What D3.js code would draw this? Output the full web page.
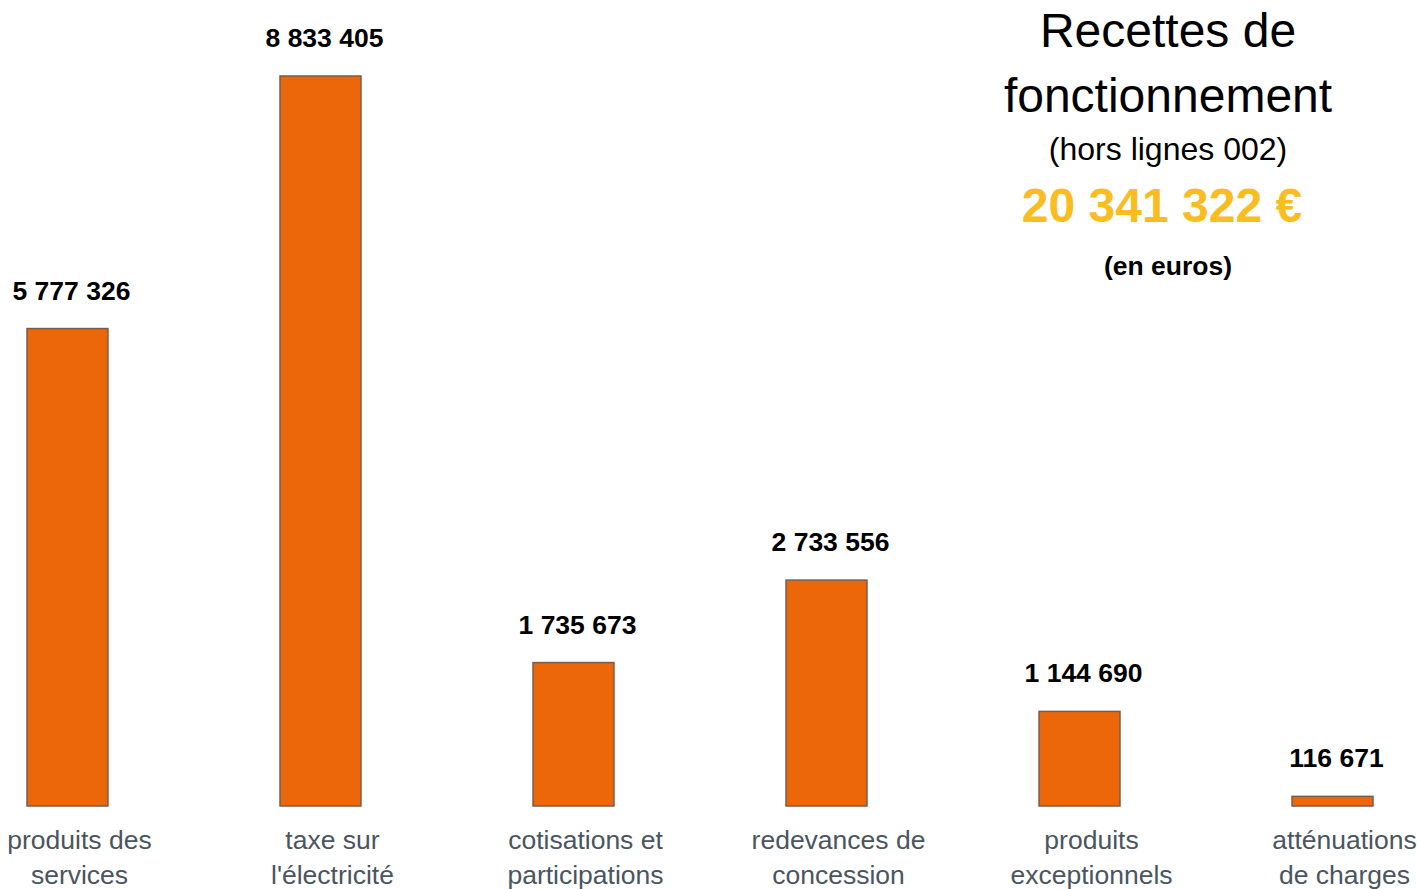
<!DOCTYPE html>
<html>
<head>
<meta charset="utf-8">
<style>
body { margin: 0; background: #fff; font-family: "Liberation Sans", Arial, sans-serif; }
.bar { fill: #eb6709; stroke: #7a5c4c; stroke-width: 1.5; }
.val { font-size: 26.5px; font-weight: bold; fill: #000; text-anchor: middle; }
.cat { font-size: 26.5px; fill: #4a5561; text-anchor: middle; }
.title { fill: #000; text-anchor: middle; }
</style>
</head>
<body>
<script src="https://cdn.jsdelivr.net/npm/d3@7"></script>
<script>

// data
var categories = [
    ["produits des", "services"],
    ["taxe sur", "l'électricité"],
    ["cotisations et", "participations"],
    ["redevances de", "concession"],
    ["produits", "exceptionnels"],
    ["atténuations", "de charges"]
];
var values = [5777326, 8833405, 1735673, 2733556, 1144690, 116671];
var total = "20 341 322 €";
var titleLines = ["Recettes de", "fonctionnement"];

var width = 1417, height = 889;
var baseline = 806;

var svg = d3.select("body").append("svg")
    .attr("width", width)
    .attr("height", height);

// scales
var x = d3.scaleBand()
    .domain(d3.range(values.length))
    .range([27, 1373])
    .paddingInner(0.68)
    .paddingOuter(0);

var y = d3.scaleLinear()
    .domain([0, 8833405])
    .range([baseline, 76]);

var fmt = function(v) { return d3.format(",")(v).replace(/,/g, " "); };

// bars
svg.selectAll("rect.bar")
    .data(values)
    .enter().append("rect")
    .attr("class", "bar")
    .attr("x", function(d, i) { return x(i); })
    .attr("y", function(d) { return y(d); })
    .attr("width", x.bandwidth())
    .attr("height", function(d) { return baseline - y(d); });

// value labels
svg.selectAll("text.val")
    .data(values)
    .enter().append("text")
    .attr("class", "val")
    .attr("x", function(d, i) { return x(i) + x.bandwidth() / 2 + 4; })
    .attr("y", function(d) { return y(d) - 29; })
    .text(fmt);

// category labels
var cats = svg.selectAll("text.cat")
    .data(categories)
    .enter().append("text")
    .attr("class", "cat")
    .attr("transform", function(d, i) {
        return "translate(" + (x(i) + x.bandwidth() / 2 + 12) + ",849)";
    });
cats.selectAll("tspan")
    .data(function(d) { return d; })
    .enter().append("tspan")
    .attr("x", 0)
    .attr("y", function(d, j) { return j * 35; })
    .text(function(d) { return d; });

// title block
var tx = 1168;
svg.selectAll("text.tl")
    .data(titleLines)
    .enter().append("text")
    .attr("class", "title")
    .attr("x", tx)
    .attr("y", function(d, i) { return 47 + i * 65; })
    .style("font-size", "48px")
    .text(function(d) { return d; });

svg.append("text")
    .attr("class", "title")
    .attr("x", tx)
    .attr("y", 160)
    .style("font-size", "32px")
    .text("(hors lignes 002)");

svg.append("text")
    .attr("class", "title")
    .attr("x", 1162)
    .attr("y", 222)
    .style("font-size", "48px")
    .style("font-weight", "bold")
    .style("fill", "#f9bd22")
    .text(total);

svg.append("text")
    .attr("class", "title")
    .attr("x", tx)
    .attr("y", 275)
    .style("font-size", "26.5px")
    .style("font-weight", "bold")
    .text("(en euros)");

</script>
</body>
</html>
